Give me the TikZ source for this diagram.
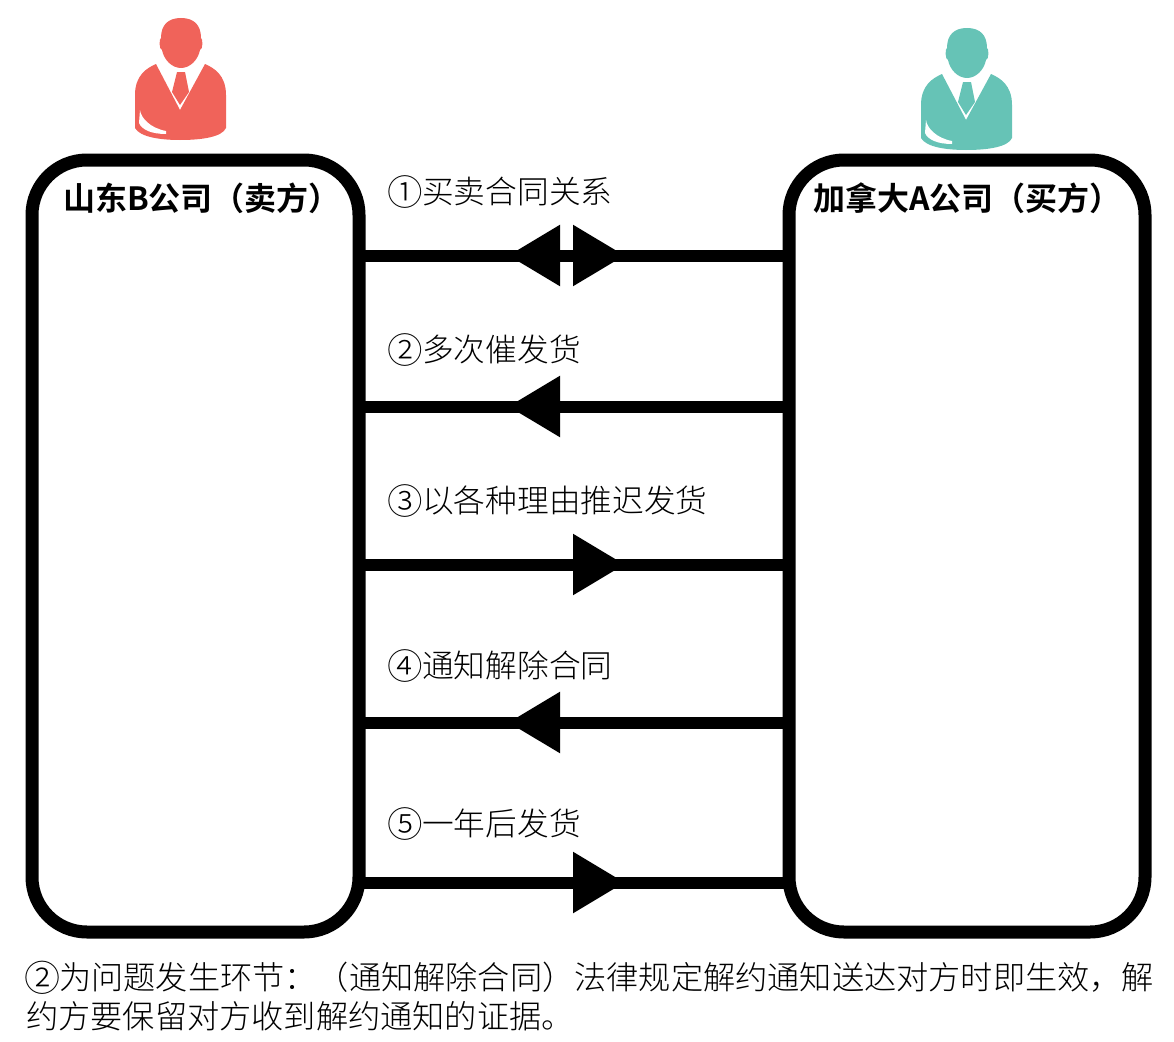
\documentclass[tikz,border=0pt]{standalone}
\usepackage{fontspec}
\setmainfont{Noto Sans CJK SC}[UprightFont=* Light,BoldFont=* Bold]
\usetikzlibrary{arrows.meta}
\definecolor{redman}{HTML}{F0635A}
\definecolor{tealman}{HTML}{66C3B6}
\newcommand{\cnum}[1]{\makebox[33pt][c]{\raisebox{-2.2pt}{\scalebox{1.12}{#1}}}}
\tikzset{
  x=1pt,y=-1pt,
  party/.style={draw=black,line width=13pt,rounded corners=55pt,outer sep=0pt,inner sep=0pt,fill=white},
  conn/.style={draw=black,line width=12pt},
  head/.style={-{Triangle[length=52pt,width=58pt,sep=0pt]},draw=black,line width=12pt},
  lab/.style={anchor=base west,inner sep=0pt,font=\fontsize{31.7}{32}\selectfont},
  ttl/.style={anchor=base west,inner sep=0pt,font=\fontsize{32}{32}\selectfont\bfseries},
  note/.style={anchor=north west,inner sep=0pt,align=left,font=\fontsize{32.2}{39}\selectfont},
  man/.pic={
    \path[fill=manc] (156,64) .. controls (147,68) and (135,75) .. (135,95) -- (135,128)
      .. controls (140,137) and (160,140) .. (180,140) .. controls (202,140) and (222,137) .. (226,128)
      -- (226,95) .. controls (226,75) and (214,68) .. (205,64) -- (180,110) -- cycle;
    \path[fill=manc] (181,18) .. controls (168,18) and (161,25) .. (161,38)
      .. controls (159,38) and (159,50) .. (162,50) .. controls (164,60) and (172,68) .. (181,68)
      .. controls (190,68) and (198,60) .. (200,50) .. controls (203,50) and (203,38) .. (201,38)
      .. controls (201,25) and (194,18) .. (181,18) -- cycle;
    \path[fill=manc] (177,72) -- (185,72) -- (189,92) -- (180,105) -- (172,92) -- cycle;
    \path[fill=white] (140,110) .. controls (141,118) and (150,128) .. (166,131) -- (166,134)
      .. controls (152,134) and (142,130) .. (139,123) -- cycle;
  }
}
\begin{document}
\begin{tikzpicture}
\useasboundingbox (0,0) rectangle (1174,1041);
\colorlet{manc}{redman}
\pic (seller) at (0,0) {man};
\colorlet{manc}{tealman}
\pic (buyer) at (786,10) {man};

\node[party,minimum width=327pt,minimum height=772pt] (L) at (195.5,546) {};
\node[party,minimum width=356pt,minimum height=772pt] (R) at (967,546) {};

\node[ttl] (Lt) at (63,210.5) {山东B公司（卖方）};
\node[ttl] (Rt) at (813,210.5) {加拿大A公司（买方）};

\coordinate (a1) at (508,255.5);\coordinate (b1) at (625,255.5);
\coordinate (ma) at (572,255.5);\coordinate (mb) at (561,255.5);
\draw[conn] (L.east |- a1) -- (R.west |- a1);
\draw[head] (ma) -- (a1);
\draw[head] (mb) -- (b1);

\coordinate (t2) at (508,406.5);
\draw[conn] (L.east |- t2) -- (R.west |- t2);
\draw[head] (R.west |- t2) -- (t2);
\coordinate (t3) at (625,564.5);
\draw[conn] (R.west |- t3) -- (L.east |- t3);
\draw[head] (L.east |- t3) -- (t3);
\coordinate (t4) at (508,722.5);
\draw[conn] (L.east |- t4) -- (R.west |- t4);
\draw[head] (R.west |- t4) -- (t4);
\coordinate (t5) at (625,882.5);
\draw[conn] (R.west |- t5) -- (L.east |- t5);
\draw[head] (L.east |- t5) -- (t5);

\node[lab] (l1) at (389,203) {\cnum{①}买卖合同关系};
\node[lab] (l2) at (389,361) {\cnum{②}多次催发货};
\node[lab] (l3) at (389,512) {\cnum{③}以各种理由推迟发货};
\node[lab] (l4) at (389,677) {\cnum{④}通知解除合同};
\node[lab] (l5) at (389,835) {\cnum{⑤}一年后发货};

\node[note] (n) at (26,961) {\cnum{②}为问题发生环节：（通知解除合同）法律规定解约通知送达对方时即生效，解\\约方要保留对方收到解约通知的证据。};
\end{tikzpicture}
\end{document}
